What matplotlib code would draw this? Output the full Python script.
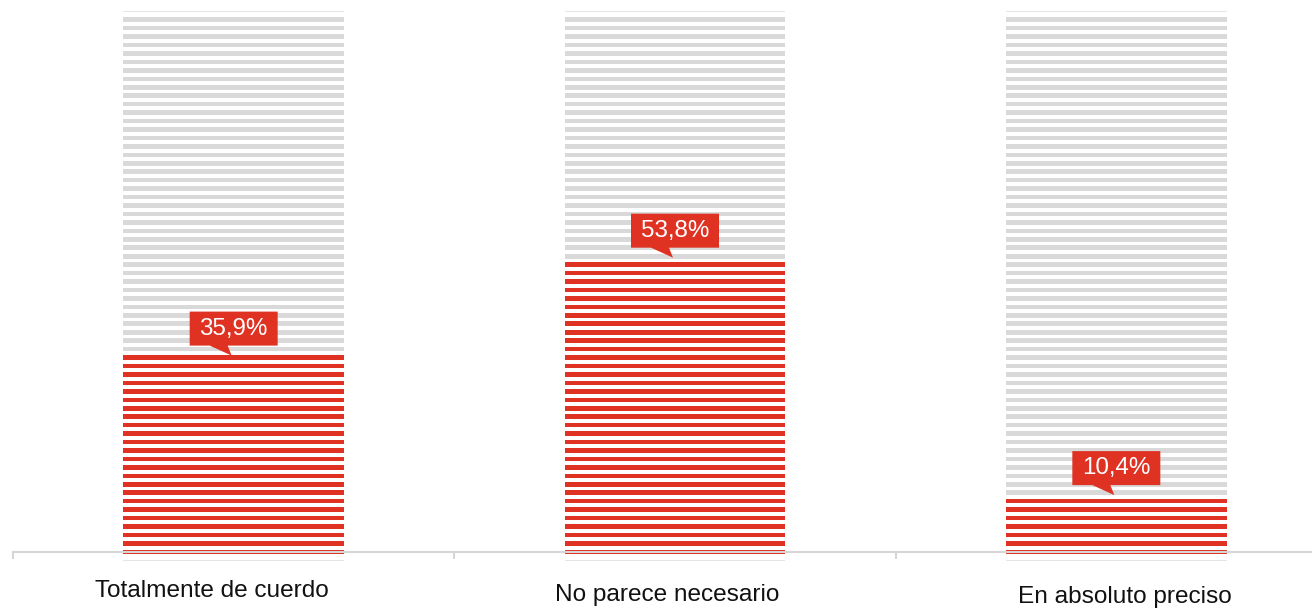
import matplotlib
matplotlib.use("Agg")
import matplotlib.pyplot as plt
import matplotlib.transforms as mtransforms
from matplotlib.patches import Polygon

# Survey answers and their shares (%)
categories = ["Totalmente de cuerdo", "No parece necesario", "En absoluto preciso"]
values = [35.9, 53.8, 10.4]
value_labels = ["35,9%", "53,8%", "10,4%"]

RED = "#e03222"
GREY = "#d9d9d9"
THIN = "#e4e4e4"
FONT = "Liberation Sans"

fig = plt.figure(figsize=(13.12, 6.10), dpi=100)
W, H = 1312, 610
# axes: baseline 552 px from the top, category slots 441 px wide
ax = fig.add_axes([13 / W, (H - 552) / H, 1324 / W, 552 / H])
ax.set_xlim(-0.5, 2.5)
ax.set_ylim(0, 100.9)

# striped columns: thick stripes on a fixed pitch, red up to the value
pitch = 1.544
first = -1.517
n_stripes = 66
thick = 0.84
thin = 0.22
bar_w = 0.5

for i, v in enumerate(values):
    for k in range(n_stripes):
        c = first + k * pitch
        if k == 0 or k == n_stripes - 1:
            h, col = thin, THIN
        else:
            h = thick
            col = RED if c <= v else GREY
        ax.bar(i, h, bottom=c - h / 2, width=bar_w, color=col,
               linewidth=0, clip_on=False, zorder=1)

# value callouts: red box with a pointer down to the column top
for i, (v, lab) in enumerate(zip(values, value_labels)):
    anchor = mtransforms.Affine2D() + mtransforms.ScaledTranslation(i, v, ax.transData)
    box = Polygon([(-44, 10), (-24, 10), (-2, 0), (-6, 10), (44, 10), (44, 44), (-44, 44)],
                  closed=True, facecolor=RED, edgecolor="none",
                  transform=anchor, clip_on=False, zorder=4)
    ax.add_patch(box)
    ax.text(0, 27, lab, transform=anchor, ha="center", va="center",
            color="white", fontsize=17.4, family=FONT, zorder=5)

# category names below the axis
label_shift = [(-22, -45), (-8, -48.5), (9, -51)]
for i, (name, (dx, dy)) in enumerate(zip(categories, label_shift)):
    t = mtransforms.Affine2D() + mtransforms.ScaledTranslation(i, 0, ax.transData)
    ax.text(dx, dy, name, transform=t, ha="center", va="baseline",
            color="#111111", fontsize=17.6, family=FONT)

# axis: light baseline with ticks between categories
for s in ["top", "right", "left"]:
    ax.spines[s].set_visible(False)
ax.spines["bottom"].set_color("#d6d6d6")
ax.spines["bottom"].set_linewidth(1.5)
ax.spines["bottom"].set_zorder(3)
ax.set_yticks([])
ax.set_xticks([-0.5, 0.5, 1.5, 2.5])
ax.set_xticklabels([])
ax.tick_params(axis="x", direction="out", length=5, width=1.5, color="#d6d6d6")
ax.patch.set_alpha(0)

fig.savefig("out.png", dpi=100)
